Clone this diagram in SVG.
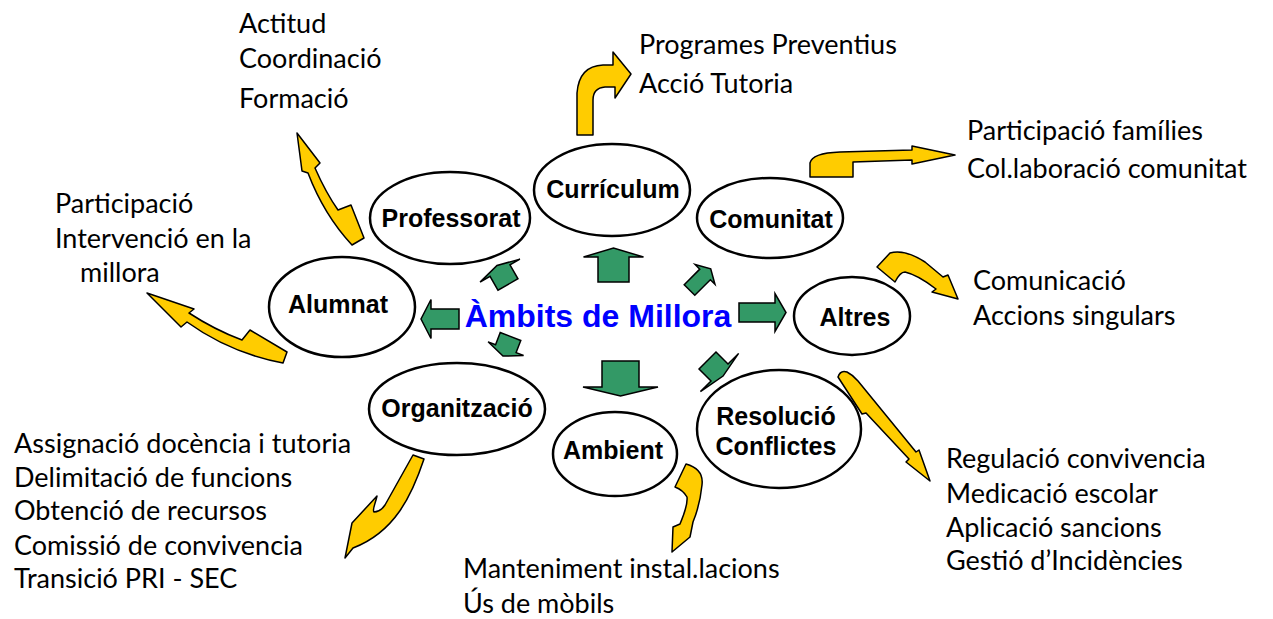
<svg xmlns="http://www.w3.org/2000/svg" width="1273" height="619" viewBox="0 0 1273 619">
<style>
.node ellipse{fill:#fff;stroke:#000;stroke-width:2.5}
.lbl{font-family:"Liberation Sans",Arial,sans-serif;font-weight:bold;font-size:25px;fill:#000;text-anchor:middle}
.title{font-family:"Liberation Sans",Arial,sans-serif;font-weight:bold;font-size:32px;fill:#0000ff;text-anchor:middle}
.g{fill:#339966;stroke:#000;stroke-width:1.5;stroke-linejoin:miter}
.y{fill:#ffcc00;stroke:#000;stroke-width:1.5;stroke-linejoin:round}
.t{font-family:Lato,"Open Sans",sans-serif;font-size:27px;fill:#000}
</style>
<rect width="1273" height="619" fill="#fff"/>
<g id="connectors">
<path class="g" d="M-15.5,0 V-25 H-30 L0,-34 L30,-25 H15.5 V0 Z" transform="translate(613.5,282)"/>
<path class="g" d="M-18.5,0 V-26 H-37.5 L0,-35 L37.5,-26 H18.5 V0 Z" transform="translate(620.5,361) rotate(180)"/>
<path class="g" d="M-10,0 V-28 H-19.5 L0,-38 L19.5,-28 H10 V0 Z" transform="translate(459,319) rotate(-90)"/>
<path class="g" d="M-9.5,0 V-36 H-19 L0,-47 L19,-36 H9.5 V0 Z" transform="translate(739,312.5) rotate(90)"/>
<path class="g" d="M-11.5,0 V-16 H-23 L0,-22 L23,-16 H11.5 V0 Z" transform="translate(508,284.5) rotate(-30)"/>
<path class="g" d="M-11,0 V-13 H-19 L0,-21 L19,-13 H11 V0 Z" transform="translate(510.5,336.5) rotate(201)"/>
<path class="g" d="M-7.5,0 V-22 H-14 L0,-30 L14,-22 H7.5 V0 Z" transform="translate(689.5,290) rotate(45)"/>
<path class="g" d="M-12,0 V-17 H-27 L0,-22 L27,-17 H12 V0 Z" transform="translate(707.5,360.5) rotate(135)"/>

<path class="y" d="M577,135 L577,93 Q579,66 603,65 L613,65 L613,52 L631,74 L615,98 L615,87 L605,87 Q593,88 593,100 L593,135 Z"/>
<path class="y" d="M810,177 L810,163 Q812,153 840,152 L912,150 L912,146 L955,155 L912,164 L912,160 L853,162 L853,177 Z"/>
<path class="y" d="M297,133 L320,163 L315,168 Q326,193 338,210 L351,205 L364,238 L352,245 Q324,215 308,173 L302,171 Z"/>
<path class="y" d="M147,293 L194,309 L189,313 Q215,330 242,340 L250,330 L287,352 L283,363 Q230,353 187,322 L181,327 Z"/>
<path class="y" d="M413,455 L424,459 C412,495 395,532 353,548 L345,558 L352,523 L377,496 C375,505 372,510 374,512 C380,512 383,508 385,505 Z"/>
<path class="y" d="M675,487 L686,464 Q704,469 702,485 Q700,505 693,522 L690,537 L672,552 L673,527 L680,524 Q688,505 687,497 Q683,490 675,487 Z"/>
<path class="y" d="M877,267 L890,253 Q905,249 925,262 L943,277 L948,275 L958,299 L932,292 L936,289 Q918,275 905,272 Q900,272 895,282 Z"/>
<path class="y" d="M838,377 Q840,370 847,372 Q853,375 858,381 L916,452 L919,450 L930,481 L906,462 L909,459 L866,413 L862,414 Z"/>
</g>
<g id="title"><text class="title" x="598" y="327">Àmbits de Millora</text></g>
<g id="n-professorat" class="node"><ellipse cx="450" cy="218" rx="80" ry="46"/><text class="lbl" x="451" y="227">Professorat</text></g>
<g id="n-curriculum" class="node"><ellipse cx="612" cy="190" rx="78" ry="46"/><text class="lbl" x="613" y="198">Currículum</text></g>
<g id="n-comunitat" class="node"><ellipse cx="770" cy="218" rx="73" ry="40"/><text class="lbl" x="771" y="228">Comunitat</text></g>
<g id="n-alumnat" class="node"><ellipse cx="342" cy="307" rx="73" ry="50"/><text class="lbl" x="338" y="313">Alumnat</text></g>
<g id="n-altres" class="node"><ellipse cx="852" cy="316" rx="58" ry="39"/><text class="lbl" x="855" y="326">Altres</text></g>
<g id="n-organitzacio" class="node"><ellipse cx="457" cy="409" rx="88" ry="46"/><text class="lbl" x="457" y="417">Organització</text></g>
<g id="n-ambient" class="node"><ellipse cx="615" cy="454" rx="62" ry="42"/><text class="lbl" x="613" y="459">Ambient</text></g>
<g id="n-resolucio" class="node"><ellipse cx="779" cy="429" rx="82" ry="59"/><text class="lbl" x="776" y="425">Resolució</text><text class="lbl" x="776" y="455">Conflictes</text></g>
<g id="texts">
<text class="t" x="239" y="33">Actitud</text>
<text class="t" x="239" y="68">Coordinació</text>
<text class="t" x="239" y="108">Formació</text>
<text class="t" x="55" y="213">Participació</text>
<text class="t" x="55" y="248">Intervenció en la</text>
<text class="t" x="80" y="282">millora</text>
<text class="t" x="639" y="54">Programes Preventius</text>
<text class="t" x="639" y="93">Acció Tutoria</text>
<text class="t" x="967" y="140">Participació famílies</text>
<text class="t" x="967" y="178">Col.laboració comunitat</text>
<text class="t" x="973" y="290">Comunicació</text>
<text class="t" x="973" y="325">Accions singulars</text>
<text class="t" x="946" y="468">Regulació convivencia</text>
<text class="t" x="946" y="503">Medicació escolar</text>
<text class="t" x="946" y="537">Aplicació sancions</text>
<text class="t" x="946" y="570">Gestió d’Incidències</text>
<text class="t" x="463" y="578">Manteniment instal.lacions</text>
<text class="t" x="463" y="613">Ús de mòbils</text>
<text class="t" x="14" y="453">Assignació docència i tutoria</text>
<text class="t" x="14" y="487">Delimitació de funcions</text>
<text class="t" x="14" y="520">Obtenció de recursos</text>
<text class="t" x="14" y="555">Comissió de convivencia</text>
<text class="t" x="14" y="588">Transició PRI - SEC</text>
</g>
</svg>
